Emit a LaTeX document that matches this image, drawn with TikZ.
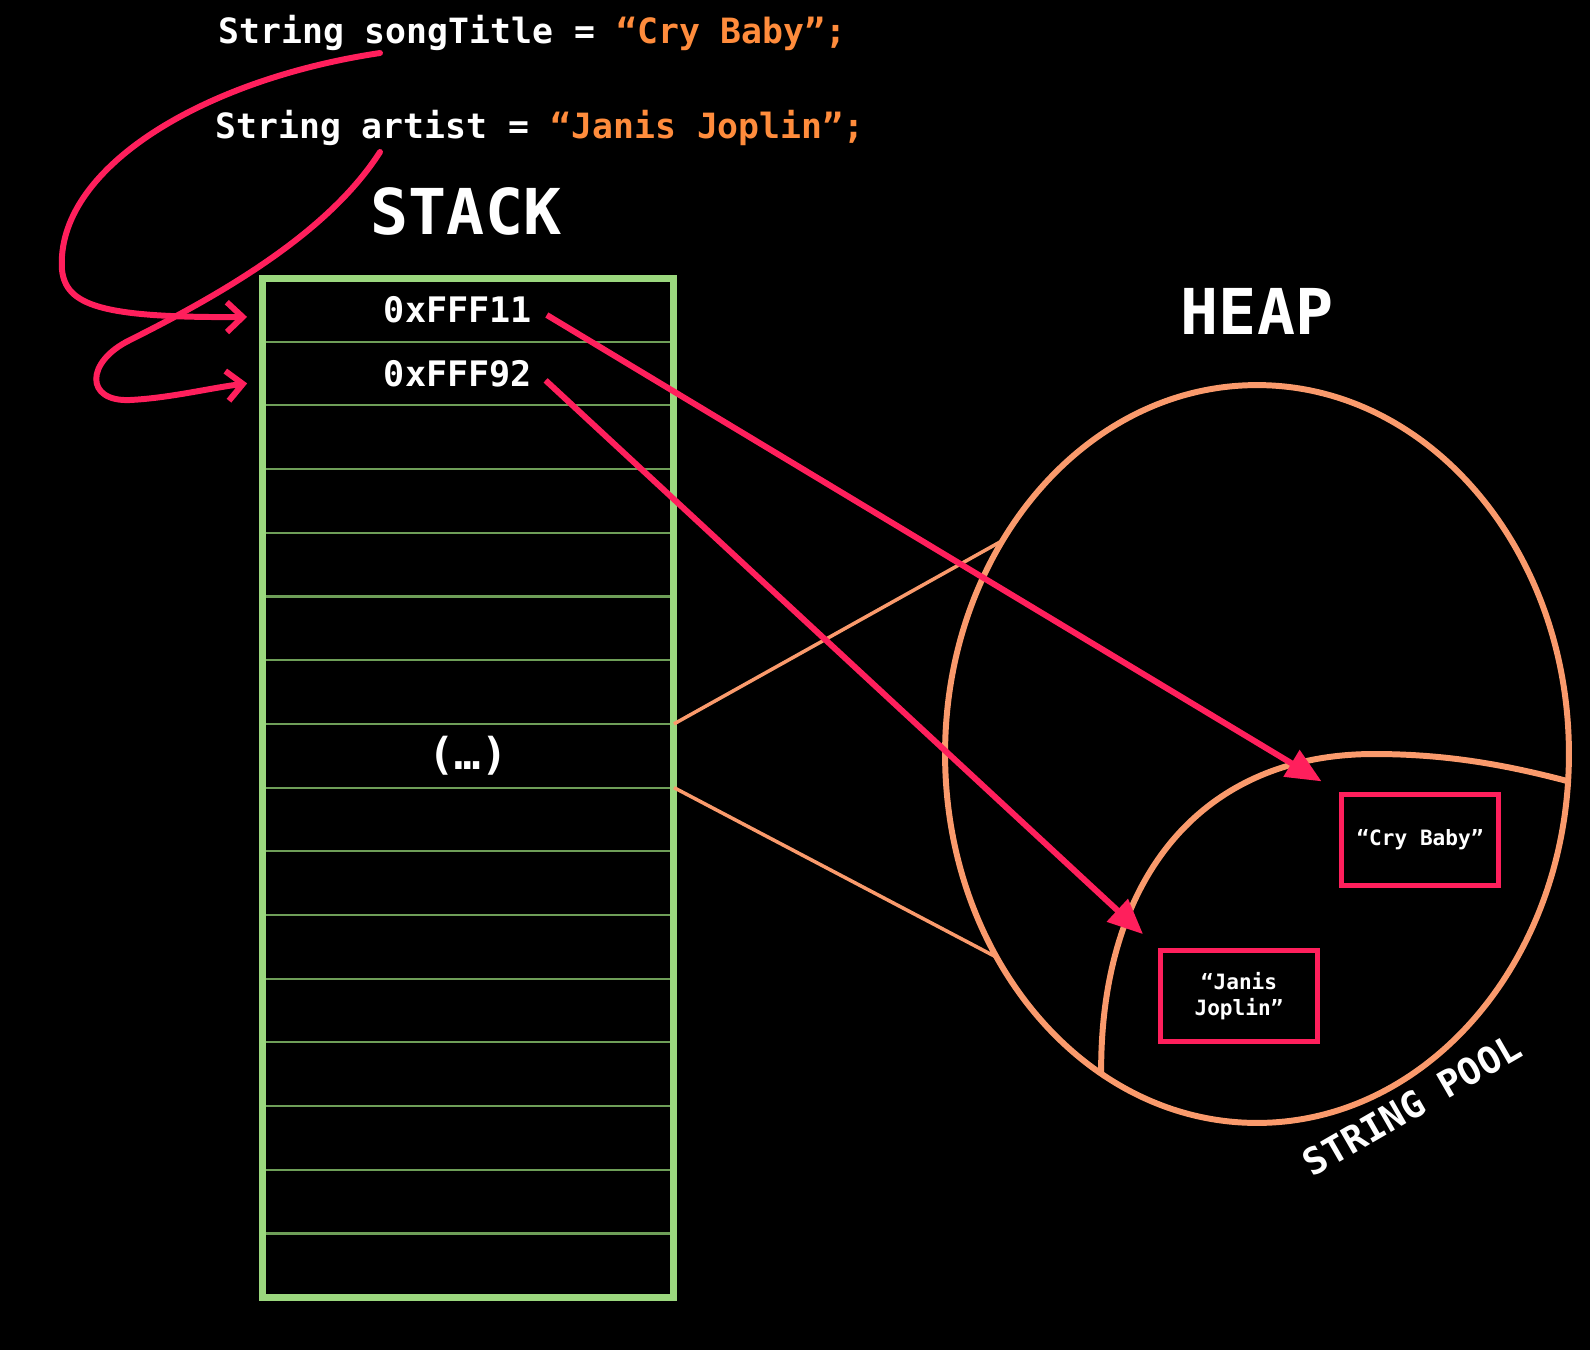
\documentclass[tikz,border=0pt]{standalone}
\usepackage{fontspec}
\setmainfont{DejaVu Sans Mono}
\usetikzlibrary{arrows.meta,shapes.geometric,positioning}

\definecolor{stackgreen}{HTML}{9BD77E}
\definecolor{rowgreen}{HTML}{6E9E58}
\definecolor{heaporange}{HTML}{FA9A6C}
\definecolor{codeorange}{HTML}{FF8C3C}
\definecolor{ptrred}{HTML}{FF1F5C}

\begin{document}
\begin{tikzpicture}[
every node/.style={font=\bfseries, text=white},
x=0.02cm,
y=-0.02cm,
row/.style={draw=rowgreen, line width=1.2pt, minimum width=8.24cm, minimum height=1.274cm, inner sep=0pt, outer sep=0pt},
addr/.style={font=\bfseries\fontsize{20}{24}\selectfont},
title/.style={font=\bfseries\fontsize{36}{40}\selectfont},
code/.style={anchor=west, inner sep=0pt, font=\bfseries\fontsize{19.8}{24}\selectfont},
strbox/.style={draw=ptrred, line width=3.2pt, minimum width=3.14cm, minimum height=1.82cm, align=center, font=\bfseries\fontsize{12}{15}\selectfont},
ptr/.style={draw=ptrred, line width=3.4pt, -{Triangle[length=20pt,width=17pt]}},
decl/.style={draw=ptrred, line width=3.4pt, line cap=round, -{Straight Barb[length=9pt,width=17pt]}},
zoomline/.style={draw=heaporange, line width=2pt}
]
\fill[black] (0,0) rectangle (1590,1350);

\node[code] (songline) at (218,33) {String songTitle = \textcolor{codeorange}{“Cry Baby”;}};
\node[code] (artistline) at (215,128) {String artist = \textcolor{codeorange}{“Janis Joplin”;}};
\coordinate (songvar) at (380,53);
\coordinate (artistvar) at (380,152);

\node[title] (stacklabel) at (466,211) {STACK};
\node[title] (heaplabel) at (1257,311) {HEAP};

% stack frames
\foreach \i in {1,...,16}
  \node[row] (row\i) at (468,{278+(\i-0.5)*63.7}) {};
\draw[stackgreen, line width=4pt] (row1.north west) rectangle (row16.south east);

\node[addr] (addr1) at ([xshift=-0.2cm]row1.center) {0xFFF11};
\node[addr] (addr2) at ([xshift=-0.2cm]row2.center) {0xFFF92};
\node[font=\bfseries\fontsize{25}{30}\selectfont] (dots) at (row8) {(…)};

% heap and string pool
\node[ellipse, draw=heaporange, line width=3.4pt, minimum width=12.48cm, minimum height=14.76cm, inner sep=0pt, outer sep=0pt] (heap) at (1257,754) {};
\draw[heaporange, line width=3.4pt] (heap.244) .. controls (1100,880) and (1200,754) .. (1374,754) .. controls (1450,754) and (1510,766) .. (heap.355);
\draw[zoomline] (row8.north east) -- (heap.140);
\draw[zoomline] (row8.south east) -- (heap.218);

\node[strbox] (crybox) at (1420,840) {“Cry Baby”};
\node[strbox] (janisbox) at (1239,996) {“Janis\\Joplin”};
\node[font=\bfseries\fontsize{21}{25}\selectfont, rotate=30] (poollabel) at (1412,1105) {STRING POOL};

% references
\draw[ptr, shorten <=0.2cm, shorten >=0.4cm] (addr1.east) -- (crybox.north west);
\draw[ptr, shorten <=0.2cm, shorten >=0.4cm] (addr2.east) -- (janisbox.north west);

\draw[decl, shorten >=0.3cm] (songvar) .. controls (200,80) and (55,170) .. (62,270) .. controls (66,305) and (100,318) .. ([yshift=-0.14cm]row1.west);
\draw[decl, shorten >=0.3cm] (artistvar) .. controls (330,230) and (230,290) .. (130,340) .. controls (85,362) and (85,402) .. (130,400) .. controls (170,398) and (210,388) .. ([yshift=-0.16cm]row2.west);
\end{tikzpicture}
\end{document}
